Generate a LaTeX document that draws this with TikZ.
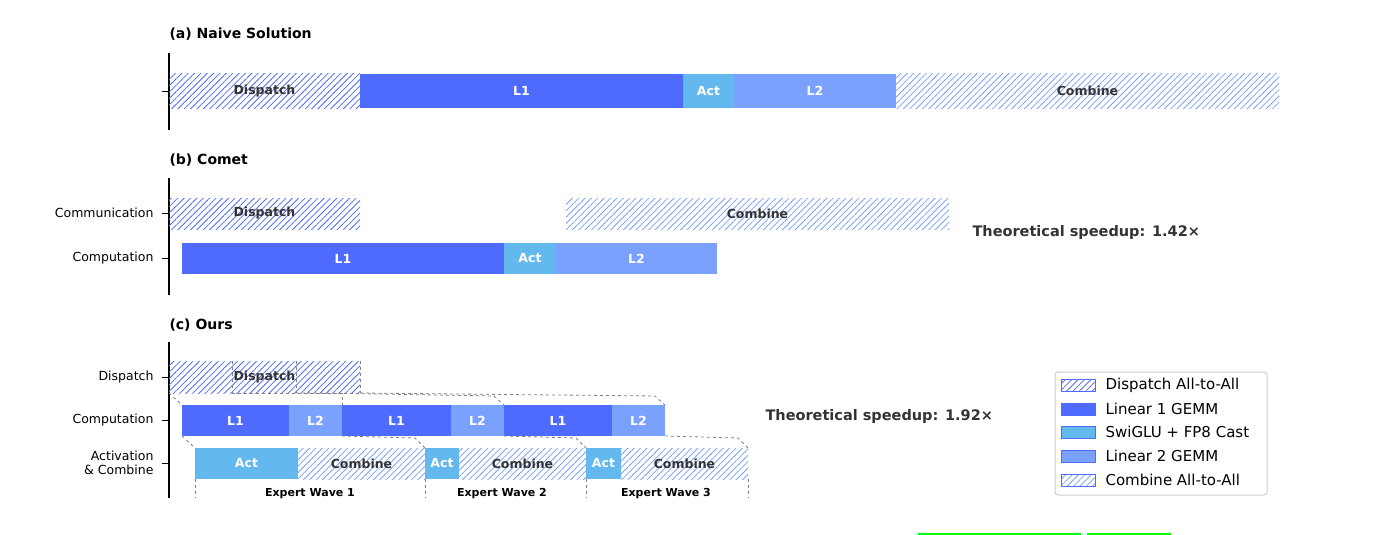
\documentclass[tikz,border=0pt]{standalone}
\usepackage{fontspec}
\setmainfont{DejaVu Sans}
\usetikzlibrary{patterns.meta}
\definecolor{cA}{HTML}{4F6BFE}
\definecolor{cB}{HTML}{63B8EE}
\definecolor{cC}{HTML}{7BA1FF}
\definecolor{tx}{HTML}{333333}
\tikzset{
 bar/.style={inner sep=0pt,outer sep=0pt,anchor=north west,font=\fontsize{12.5}{14}\selectfont\bfseries},
 l1/.style={bar,fill=cA,text=white},
 act/.style={bar,fill=cB,text=white},
 l2/.style={bar,fill=cC,text=white},
 disp/.style={bar,text=tx,pattern={Lines[angle=45,distance=4.5pt,line width=0.8pt]},pattern color=cA},
 comb/.style={bar,text=tx,pattern={Lines[angle=45,distance=4.5pt,line width=0.8pt]},pattern color=cC},
 ttl/.style={anchor=west,font=\fontsize{14}{16}\selectfont\bfseries},
 ylab/.style={anchor=east,font=\fontsize{12.5}{14}\selectfont,align=right},
 spd/.style={anchor=west,font=\fontsize{14.5}{16}\selectfont\bfseries,text=tx},
 gd/.style={draw=gray,dashed,line width=0.8pt},
 wave/.style={font=\fontsize{11}{13}\selectfont\bfseries},
 leg/.style={anchor=west,font=\fontsize{15}{17}\selectfont}
}
\begin{document}
\begin{tikzpicture}[x=1pt,y=-1pt]
\useasboundingbox (0,0) rectangle (1390,535);
% (a)
\node[ttl] (ta) at (166,34) {(a) Naive Solution};
\draw[line width=1.5pt] (169,53) -- (169,130);
\draw (162,91) -- (169,91);
\node[disp,minimum width=191,minimum height=34] (a1) at (169,74) {Dispatch};
\node[l1,minimum width=323,minimum height=34] (a2) at (360,74) {L1};
\node[act,minimum width=51,minimum height=34] (a3) at (683,74) {Act};
\node[l2,minimum width=162,minimum height=34] (a4) at (734,74) {L2};
\node[comb,minimum width=383,minimum height=34] (a5) at (896,74) {Combine};
% (b)
\node[ttl] (tb) at (166,160) {(b) Comet};
\draw[line width=1.5pt] (169,178) -- (169,295);
\draw (162,213) -- (169,213);
\draw (162,258) -- (169,258);
\node[ylab] (yb1) at (157,213) {Communication};
\node[ylab] (yb2) at (157,258) {Computation};
\node[disp,minimum width=191,minimum height=31] (b1) at (169,198) {Dispatch};
\node[comb,minimum width=383,minimum height=31] (b2) at (566,198) {Combine};
\node[l1,minimum width=322,minimum height=31] (b3) at (182,243) {L1};
\node[act,minimum width=52,minimum height=31] (b4) at (504,243) {Act};
\node[l2,minimum width=161,minimum height=31] (b5) at (556,243) {L2};
\node[spd] (sb) at (969,232) {Theoretical speedup: 1.42×};
% (c)
\node[ttl] (tc) at (166,325) {(c) Ours};
\draw[line width=1.5pt] (169,342) -- (169,498);
\draw (162,377) -- (169,377);
\draw (162,420) -- (169,420);
\draw (162,463) -- (169,463);
\node[ylab] (yc1) at (157,377) {Dispatch};
\node[ylab] (yc2) at (157,420) {Computation};
\node[ylab] (yc3) at (157,463) {Activation\\\& Combine};
\node[disp,minimum width=191,minimum height=32] (c0) at (169,361) {Dispatch};
\draw[gd] (232,361) -- (232,393) (296,361) -- (296,393) (360,361) -- (360,393);
\foreach \a/\b/\c/\n in {182/289/342/1,342/451/504/2,504/612/665/3}{
  \node[l1,minimum width=\b-\a,minimum height=31] (p\n) at (\a,405) {L1};
  \node[l2,minimum width=\c-\b,minimum height=31] (q\n) at (\b,405) {L2};
}
\foreach \a/\b/\c/\n in {195/298/425/1,425/459/586/2,586/621/748/3}{
  \node[act,minimum width=\b-\a,minimum height=31] (r\n) at (\a,448) {Act};
  \node[comb,minimum width=\c-\b,minimum height=31] (s\n) at (\b,448) {Combine};
}
\draw[gd] (169,393) -- (p1.north west);
\draw[gd] (232,393) -- (342,393) -- (q1.north east);
\draw[gd] (296,393) -- (320,393) -- (494,396) -- (q2.north east);
\draw[gd] (360,393) -- (655,396) -- (q3.north east);
\draw[gd] (p1.south west) -- (r1.north west);
\draw[gd] (q1.south east) -- (415,438) -- (s1.north east);
\draw[gd] (q2.south east) -- (576,438) -- (s2.north east);
\draw[gd] (q3.south east) -- (738,438) -- (s3.north east);
\draw[gd,line width=0.6pt] (195,479) -- (195,498) (425,479) -- (425,498) (586,479) -- (586,498) (748,479) -- (748,498);
\node[wave] (w1) at (310,494) {Expert Wave 1};
\node[wave] (w2) at (502,494) {Expert Wave 2};
\node[wave] (w3) at (666,494) {Expert Wave 3};
\node[spd] (sc) at (762,416) {Theoretical speedup: 1.92×};
% legend
\draw[rounded corners=3pt,draw=black!20,line width=1pt,fill=white] (1055,372) rectangle (1267,495);
\foreach \y/\s/\t in {385/disp/Dispatch All-to-All,409/l1/Linear 1 GEMM,432/act/SwiGLU + FP8 Cast,456/l2/Linear 2 GEMM,480/comb/Combine All-to-All}{
  \node[\s,minimum width=34,minimum height=12,anchor=west,draw=\ifx\s l1 cA\else cA\fi] at (1061,\y) {};
  \node[leg] at (1102,\y) {\t};
}
\draw[green,line width=2pt] (918,534) -- (1081,534) (1087,534) -- (1171,534);
\end{tikzpicture}
\end{document}
